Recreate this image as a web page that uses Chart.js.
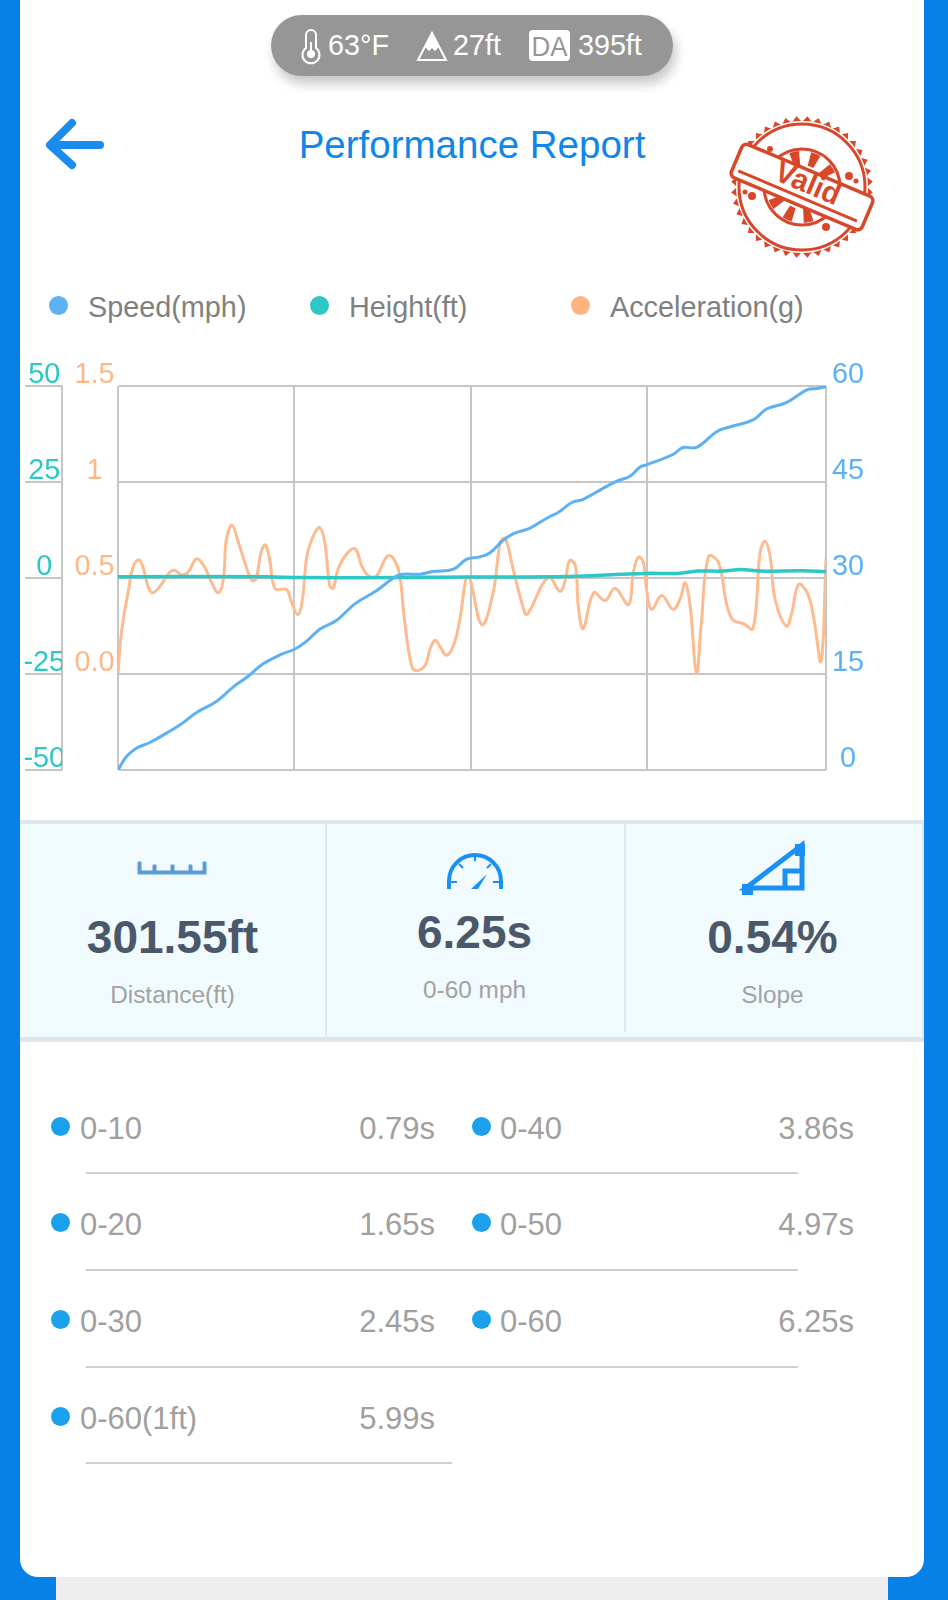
<!DOCTYPE html>
<html>
<head>
<meta charset="utf-8">
<title>Performance Report</title>
<script src="https://cdn.jsdelivr.net/npm/chart.js@4/dist/chart.umd.min.js"></script>
<style>
  html, body { margin: 0; padding: 0; width: 948px; height: 1600px; overflow: hidden; background: #0780e8; font-family: "Liberation Sans", Arial, sans-serif; }
  .abs { position: absolute; white-space: nowrap; }
  .foot { position: absolute; left: 56px; top: 1570px; width: 832px; height: 30px; background: #eeeeee; }
  .card { position: absolute; left: 20px; top: -20px; width: 904px; height: 1597px; background: #fff; border-radius: 18px; }
  .pill { position: absolute; left: 271px; top: 15px; width: 402px; height: 61px; background: #969696; border-radius: 31px; box-shadow: 3px 8px 12px rgba(0,0,0,0.22); }
  .pilltxt { font-size: 28.7px; color: #fff; line-height: 32px; top: 29px; }
  .title { left: 0; width: 944px; text-align: center; top: 123px; font-size: 38.5px; line-height: 44px; color: #0f86ea; }
  .dot { position: absolute; border-radius: 50%; }
  .legtxt { font-size: 28.8px; line-height: 34px; top: 290px; color: #808080; }
  .band { position: absolute; left: 20px; width: 904px; background: #dde6e8; }
  .panel { position: absolute; left: 20px; top: 824px; width: 902px; height: 213px; background: #f1fbfd; }
  .vdiv { position: absolute; width: 2px; background: #dde6e8; }
  .stat { font-size: 46px; font-weight: bold; color: #4a586a; width: 300px; text-align: center; line-height: 52px; }
  .sub { font-size: 24.4px; color: #a2a2a2; width: 300px; text-align: center; line-height: 28px; }
  .rowtxt { font-size: 31px; color: #a0a0a0; line-height: 36px; }
  .hr { position: absolute; height: 2px; background: #cfcfcf; }
  canvas { position: absolute; left: 20px; top: 340px; }
</style>
</head>
<body>
<div class="foot"></div>
<div class="card"></div>

<div class="pill"></div>
<svg class="abs" style="left:0;top:0" width="948" height="340" viewBox="0 0 948 340">
  <!-- thermometer -->
  <path d="M306 35a5 5 0 0 1 10 0v13a8.5 8.5 0 1 1-10 0z" fill="none" stroke="#fff" stroke-width="2"/>
  <circle cx="311" cy="54" r="4" fill="#fff"/><rect x="310" y="42" width="2" height="10" fill="#fff"/>
  <!-- mountain -->
  <path d="M432 33l-14 27h28z" fill="none" stroke="#fff" stroke-width="2"/>
  <path d="M432 33l-7 14 4 4 3-3 3 3 4-4z" fill="#fff"/>
  <!-- DA badge -->
  <rect x="529" y="30" width="41" height="31" rx="4" fill="#fff"/>
  <text x="549.5" y="56" font-size="27" text-anchor="middle" fill="#969696" font-family="Liberation Sans" textLength="36" lengthAdjust="spacingAndGlyphs">DA</text>
  <!-- back arrow -->
  <path d="M72 123L50 145L72 165M52 145H100" fill="none" stroke="#1a8cf0" stroke-width="8" stroke-linecap="round" stroke-linejoin="round"/>
  <!-- valid stamp -->
  <g id="stamp" fill="none" stroke="#d8472a">
    <polygon id="stampTeeth" fill="#d8472a" stroke="none"/>
    <circle cx="802" cy="187" r="66" fill="#fff" stroke="none"/>
    <circle cx="802" cy="187" r="63" stroke-width="3"/>
    <circle cx="802" cy="187" r="38" stroke-width="3"/>
    <circle cx="802" cy="187" r="29" stroke-width="14" stroke-dasharray="8 10"/>
  </g>
  <g fill="#d8472a">
    <circle cx="849" cy="176" r="4"/><circle cx="856" cy="181" r="2.5"/>
    <circle cx="752" cy="196" r="4"/><circle cx="745" cy="192" r="2.5"/>
    <circle cx="826" cy="227" r="4"/><circle cx="770" cy="149" r="3"/>
  </g>
  <g transform="rotate(23 802 187)">
    <rect x="731" y="169" width="142" height="36" fill="#fff" stroke="#d8472a" stroke-width="3.5" rx="5"/>
    <line x1="737" y1="197" x2="866" y2="197" stroke="#d8472a" stroke-width="3"/>
    <text x="806" y="191" font-size="30" font-weight="bold" text-anchor="middle" fill="#d8472a" font-family="Liberation Sans" textLength="68" lengthAdjust="spacingAndGlyphs">Valid</text>
  </g>
</svg>
<div class="abs pilltxt" style="left:328px">63°F</div>
<div class="abs pilltxt" style="left:453px">27ft</div>
<div class="abs pilltxt" style="left:578px">395ft</div>
<div class="abs title">Performance Report</div>

<div class="dot" style="left:49px;top:296px;width:19px;height:19px;background:#5cb0f4"></div>
<div class="abs legtxt" style="left:88px">Speed(mph)</div>
<div class="dot" style="left:310px;top:296px;width:19px;height:19px;background:#2cc8c4"></div>
<div class="abs legtxt" style="left:349px">Height(ft)</div>
<div class="dot" style="left:571px;top:296px;width:19px;height:19px;background:#ffb37e"></div>
<div class="abs legtxt" style="left:610px">Acceleration(g)</div>

<canvas id="perfChart" width="880" height="460" style="width:880px;height:460px"></canvas>

<div class="band" style="top:820px;height:4px"></div>
<div class="panel"></div>
<div class="band" style="top:1037px;height:5px"></div>
<div class="vdiv" style="left:325px;top:824px;height:213px"></div>
<div class="vdiv" style="left:624px;top:824px;height:208px"></div>
<div class="vdiv" style="left:922px;top:824px;height:213px"></div>

<svg class="abs" style="left:0;top:830px" width="948" height="80" viewBox="0 830 948 80">
  <!-- ruler -->
  <path d="M138 874h68v-12h-3v9h-11v-6h-3v6h-15v-6h-3v6h-15v-6h-3v6h-12v-9h-3z" fill="#5b9bd8" stroke="#5b9bd8" stroke-width="1"/>
  <!-- gauge -->
  <path d="M449 889V881A26 26 0 0 1 501 881V889" fill="none" stroke="#1a90f5" stroke-width="4"/>
  <path d="M451 882h6M499 882h-6M459 864l4 4M491 864l-4 4M475 855v6" stroke="#1a90f5" stroke-width="2"/>
  <path d="M487 874L478 889H471Z" fill="#1a90f5"/>
  <!-- slope -->
  <path d="M746 888L802 845V888ZM785 888V871H802" fill="none" stroke="#1a90f5" stroke-width="5"/>
  <rect x="742" y="884" width="11" height="11" fill="#1a90f5"/>
  <rect x="795" y="844" width="10" height="12" fill="#1a90f5"/>
</svg>

<div id="stats"></div>
<div id="splits"></div>

<script>
// speed trace (x = % of plot width, speed in mph)
const speedX = [0,1.2,2.6,4.5,6.9,9.2,11.1,13.9,16.3,18.2,20.5,22.9,25,26.6,28.5,30.9,33.5,36.5,38.4,39.8,42.7,44.5,47.4,49.2,51.1,52.5,54.4,55.8,58.2,60.5,62.4,64.1,65.7,68.5,70.4,72.3,73.7,74.7,78.4,79.8,81.7,84.6,86.4,89.7,91.6,94.4,97.3,98.7,100];
const speedValues = [0,2.1,3.4,4.3,5.8,7.4,9,10.7,13,14.5,16.6,18,18.9,20.1,22,23.4,26,28,29.6,30.5,30.6,31,31.4,32.9,33.3,33.9,35.9,36.9,37.8,39.3,40.4,41.8,42.3,44,45.1,45.9,47.3,47.7,49.3,50.4,50.4,52.9,53.6,54.7,56.4,57.4,59.4,59.6,59.9];

// height trace in ft
const heightX = [0,21,25.7,39.8,49.7,63.8,70.9,74.7,79,81.9,85.5,88,90.7,96.8,100];
const heightValues = [0.35,0.35,0.1,0.1,0.25,0.4,0.95,1.2,1.2,1.8,1.8,2.2,1.8,1.9,1.6];

// acceleration trace in g
const accelX = [0,0.5,1.5,2.2,3,3.6,4.3,4.9,6,7.3,8,9,9.9,11.1,12.1,13.2,14.2,14.9,15.3,16.1,17,17.9,18.9,19.5,20.2,20.8,21.4,22.2,23.8,24.5,25.4,26,26.7,27.6,28.5,29.2,29.9,30.4,31.1,32.3,33.5,34.4,35.4,36.5,37.5,38.2,39.1,39.8,40.5,41.5,42.2,43.4,44.1,44.8,45.5,46.4,47.4,48.3,49.2,49.7,51.4,53,54,54.7,55.8,57.5,57.9,60.8,62.4,63.1,63.8,64.6,65,65.7,67.2,68.8,70.2,72.1,72.8,73.5,74.2,74.7,75.4,76.8,78.4,79.4,80.1,80.8,81.7,82.4,83.4,84.8,86,86.9,88.3,89.7,90.7,91.4,92.1,92.8,94.4,95.2,96.1,97.3,98.2,99.3,100];
const accelValues = [0,0.22,0.44,0.565,0.594,0.547,0.45,0.423,0.46,0.53,0.54,0.516,0.53,0.6,0.565,0.478,0.423,0.496,0.7,0.775,0.686,0.582,0.487,0.496,0.634,0.672,0.6,0.444,0.44,0.375,0.309,0.375,0.617,0.72,0.763,0.686,0.461,0.447,0.547,0.625,0.651,0.565,0.51,0.51,0.582,0.617,0.59,0.513,0.271,0.038,0.017,0.047,0.133,0.176,0.142,0.098,0.15,0.288,0.504,0.496,0.257,0.427,0.686,0.706,0.547,0.314,0.314,0.504,0.43,0.478,0.591,0.565,0.358,0.237,0.423,0.383,0.447,0.361,0.53,0.608,0.582,0.427,0.337,0.409,0.337,0.392,0.475,0.358,0.007,0.271,0.613,0.582,0.358,0.28,0.263,0.237,0.634,0.691,0.617,0.392,0.25,0.323,0.466,0.427,0.306,0.067,0.6];

// axis ticks
const xGridTicks = [0,24.9,49.9,74.7,100];
const speedTicks = [60,45,30,15,0];
const heightTicks = [50,25,0,-25,-50];
const accelTicks = [1.5,1,0.5,0,-0.5];
const accelTickLabels = ['1.5','1','0.5','0.0',''];

// panels below the chart
const statValues = ['301.55ft','6.25s','0.54%'];
const statLabels = ['Distance(ft)','0-60 mph','Slope'];
const splitNames = ['0-10','0-20','0-30','0-60(1ft)','0-40','0-50','0-60'];
const splitTimes = ['0.79s','1.65s','2.45s','5.99s','3.86s','4.97s','6.25s'];

const toPoints = (xs, ys) => xs.map((x, i) => ({ x: x, y: ys[i] }));
const fixTicks = list => axis => { axis.ticks = list.map(v => ({ value: v })); };
const tickFont = { family: '"Liberation Sans"', size: 28.8 };
const gridColor = '#c6c6c6';

new Chart(document.getElementById('perfChart'), {
  type: 'line',
  data: {
    datasets: [
      { label: 'Speed(mph)', data: toPoints(speedX, speedValues), yAxisID: 'ySpeed', borderColor: '#5cb0f4', borderWidth: 3, tension: 0.4 },
      { label: 'Height(ft)', data: toPoints(heightX, heightValues), yAxisID: 'yHeight', borderColor: '#2cc8c4', borderWidth: 3.5, tension: 0.4 },
      { label: 'Acceleration(g)', data: toPoints(accelX, accelValues), yAxisID: 'yAccel', borderColor: '#fdbb8f', borderWidth: 3, tension: 0.4 }
    ]
  },
  options: {
    responsive: false,
    animation: false,
    devicePixelRatio: 1,
    layout: { padding: { top: 46, bottom: 30, left: 0, right: 0 } },
    elements: { point: { radius: 0 } },
    plugins: { legend: { display: false }, tooltip: { enabled: false } },
    scales: {
      x: {
        type: 'linear', min: 0, max: 100,
        afterBuildTicks: fixTicks(xGridTicks),
        ticks: { display: false },
        grid: { color: gridColor, lineWidth: 2, drawTicks: false },
        border: { display: false }
      },
      yHeight: {
        position: 'left', weight: 2, min: -50, max: 50,
        afterBuildTicks: fixTicks(heightTicks),
        afterFit: s => { s.width = 42; },
        grid: { color: gridColor, lineWidth: 2, tickLength: 37 },
        border: { display: true, color: gridColor, width: 2 },
        ticks: { color: '#2cc8c4', font: tickFont, crossAlign: 'center', padding: -40, labelOffset: -11, autoSkip: false }
      },
      yAccel: {
        position: 'left', weight: 1, min: -0.5, max: 1.5,
        afterBuildTicks: fixTicks(accelTicks),
        afterFit: s => { s.width = 56; },
        grid: { display: false, drawTicks: false },
        border: { display: false },
        ticks: { color: '#fdb888', font: tickFont, crossAlign: 'center', padding: 3.5, labelOffset: -11, autoSkip: false,
          callback: v => accelTickLabels[accelTicks.indexOf(v)] }
      },
      ySpeed: {
        position: 'right', min: 0, max: 60,
        afterBuildTicks: fixTicks(speedTicks),
        afterFit: s => { s.width = 74; },
        grid: { display: false, drawTicks: false },
        border: { display: false },
        ticks: { color: '#5cb0f4', font: tickFont, crossAlign: 'center', padding: 6, labelOffset: -11, autoSkip: false }
      }
    }
  }
});

// serrated edge of the stamp
const teeth = [];
for (let i = 0; i < 80; i++) {
  const r = i % 2 ? 71 : 65;
  const a = i / 80 * Math.PI * 2;
  teeth.push((802 + r * Math.cos(a)).toFixed(1) + ',' + (187 + r * Math.sin(a)).toFixed(1));
}
document.getElementById('stampTeeth').setAttribute('points', teeth.join(' '));

// stat panel text
const statCenters = [172.5, 474.5, 772.5];
const statTops = [911, 906, 911];
const subTops = [981, 976, 981];
document.getElementById('stats').innerHTML = statValues.map((v, i) => `
  <div class="abs stat" style="left:${statCenters[i] - 150}px;top:${statTops[i]}px">${v}</div>
  <div class="abs sub" style="left:${statCenters[i] - 150}px;top:${subTops[i]}px">${statLabels[i]}</div>
`).join('');

// split time rows, two columns
const rowCenters = [1128, 1224, 1321, 1418];
const ruleTops = [1172, 1269, 1366, 1462];
let splitsHtml = '';
splitNames.forEach((name, i) => {
  const col = i < 4 ? 0 : 1;
  const y = rowCenters[col ? i - 4 : i];
  const dotX = col ? 472 : 51;
  const textX = col ? 80 + 420 : 80;
  const rightX = col ? 854 : 435;
  splitsHtml += `<div class="dot" style="left:${dotX}px;top:${y - 11}px;width:19px;height:19px;background:#1ba1ec"></div>
    <div class="abs rowtxt" style="left:${textX}px;top:${y - 17}px">${name}</div>
    <div class="abs rowtxt" style="left:${rightX - 120}px;top:${y - 17}px;width:120px;text-align:right">${splitTimes[i]}</div>`;
});
ruleTops.forEach((y, i) => {
  const w = i === 3 ? 366 : 712;
  splitsHtml += `<div class="hr" style="left:86px;top:${y}px;width:${w}px"></div>`;
});
document.getElementById('splits').innerHTML = splitsHtml;
</script>
</body>
</html>
